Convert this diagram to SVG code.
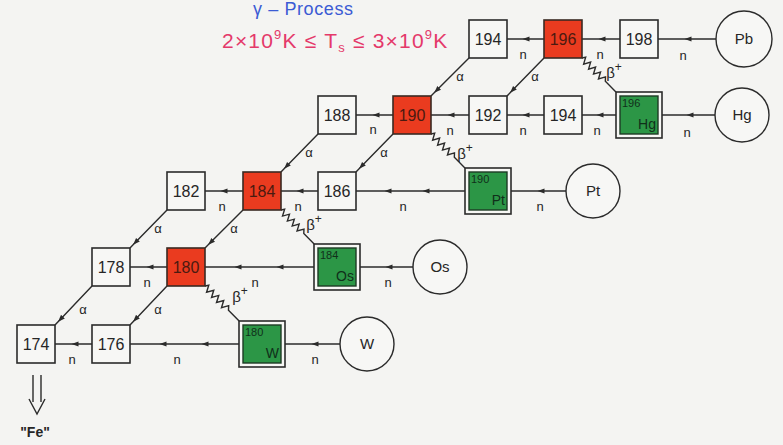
<svg xmlns="http://www.w3.org/2000/svg" xmlns:xlink="http://www.w3.org/1999/xlink" width="783" height="445" viewBox="0 0 783 445">
<style>
.bg{fill:#f4f4f2}
.box{fill:#f7f7f5;stroke:#2b2b2b;stroke-width:1.6}
.red{fill:#ea3b1f;stroke:#3a2a22;stroke-width:1.6}
.gout{fill:#f7f7f5;stroke:#2b2b2b;stroke-width:1.6}
.gin{fill:#2c9646;stroke:#1d3a24;stroke-width:1.4}
.circ{fill:#f7f7f5;stroke:#2b2b2b;stroke-width:1.4}
.num{font-family:"Liberation Sans",Arial,sans-serif;font-size:16px;fill:#262626;text-anchor:middle}
.rnum{font-family:"Liberation Sans",Arial,sans-serif;font-size:16px;fill:#4a1a10;text-anchor:middle}
.gm{font-family:"Liberation Sans",Arial,sans-serif;font-size:11px;fill:#10301a}
.gs{font-family:"Liberation Sans",Arial,sans-serif;font-size:14px;fill:#10301a;text-anchor:end}
.el{font-family:"Liberation Sans",Arial,sans-serif;font-size:15px;fill:#262626;text-anchor:middle}
.lab{font-family:"Liberation Sans",Arial,sans-serif;font-size:13px;fill:#262626;text-anchor:middle}
.beta{font-family:"Liberation Sans",Arial,sans-serif;font-size:15px;fill:#262626;text-anchor:middle}
.ln{fill:none;stroke:#2b2b2b;stroke-width:1.4;marker-mid:url(#ah)}
.wv{fill:none;stroke:#2b2b2b;stroke-width:1.4}
</style>
<defs>
<marker id="ah" markerUnits="userSpaceOnUse" markerWidth="10" markerHeight="8" refX="3.5" refY="3" orient="auto" viewBox="0 0 10 6">
<path d="M0,0.4 L7,3 L0,5.6 z" fill="#2b2b2b"/>
</marker>
<path id="wave" d="M0,0 L2,-3.2 L5.5,3.2 L9,-3.2 L12.5,3.2 L16,-3.2 L19.5,3.2 L23,-3.2 L26.5,3.2 L30,-3.2 L33,0 L48,0"/>
</defs>
<rect class="bg" x="0" y="0" width="783" height="445"/>

<g id="title">
<text x="253" y="15" font-family="Liberation Sans,Arial,sans-serif" font-size="18" letter-spacing="0.6" fill="#3b5bd4">γ – Process</text>
<text x="222" y="48" font-family="Liberation Sans,Arial,sans-serif" font-size="21" letter-spacing="1.2" fill="#e4396a">2×10<tspan font-size="13" dy="-9">9</tspan><tspan dy="9">K ≤ T</tspan><tspan font-size="13" dy="4">s</tspan><tspan dy="-4"> ≤ 3×10</tspan><tspan font-size="13" dy="-9">9</tspan><tspan dy="9">K</tspan></text>
</g>

<g id="connectors">
<path class="ln" d="M544,39 L526,39 L507,39"/>
<path class="ln" d="M620,39 L602,39 L582,39"/>
<path class="ln" d="M716,39 L688,39 L658,39"/>
<path class="ln" d="M393,115 L376,115 L356,115"/>
<path class="ln" d="M469,115 L451,115 L431,115"/>
<path class="ln" d="M544,115 L526,115 L507,115"/>
<path class="ln" d="M616,115 L600,115 L582,115"/>
<path class="ln" d="M715,115 L690,115 L662,115"/>
<path class="ln" d="M243,191 L224,191 L205,191"/>
<path class="ln" d="M318,191 L300,191 L281,191"/>
<path class="ln" d="M465,191 L426,191 L388,191 L356,191"/>
<path class="ln" d="M566,191 L541,191 L511,191"/>
<path class="ln" d="M167,267 L150,267 L130,267"/>
<path class="ln" d="M314,267 L280,267 L238,267 L205,267"/>
<path class="ln" d="M413,267 L389,267 L360,267"/>
<path class="ln" d="M92,344 L75,344 L55,344"/>
<path class="ln" d="M239,344 L205,344 L163,344 L130,344"/>
<path class="ln" d="M340,344 L315,344 L285,344"/>
<path class="ln" d="M469,58 L436.7,90.3 L431,96"/>
<path class="ln" d="M544,58 L512.5,90.3 L507,96"/>
<path class="ln" d="M318,134 L286.5,166.3 L281,172"/>
<path class="ln" d="M393,134 L361.5,166.3 L356,172"/>
<path class="ln" d="M167,210 L135.5,242.3 L130,248"/>
<path class="ln" d="M243,210 L210.7,242.3 L205,248"/>
<path class="ln" d="M92,286 L60.5,319.2 L55,325"/>
<path class="ln" d="M167,286 L135.5,319.2 L130,325"/>
<use href="#wave" class="wv" transform="translate(582,58) rotate(45)"/>
<use href="#wave" class="wv" transform="translate(431,134) rotate(45)"/>
<use href="#wave" class="wv" transform="translate(281,210) rotate(45.8) scale(0.99)"/>
<use href="#wave" class="wv" transform="translate(205,286) rotate(45.8) scale(1.02)"/>
<text class="lab" x="523" y="59">n</text>
<text class="lab" x="600" y="59">n</text>
<text class="lab" x="683" y="60">n</text>
<text class="lab" x="373" y="134">n</text>
<text class="lab" x="450" y="135">n</text>
<text class="lab" x="523" y="135">n</text>
<text class="lab" x="597" y="135">n</text>
<text class="lab" x="687" y="137">n</text>
<text class="lab" x="222" y="211">n</text>
<text class="lab" x="298" y="211">n</text>
<text class="lab" x="403" y="211">n</text>
<text class="lab" x="540" y="211">n</text>
<text class="lab" x="147" y="287">n</text>
<text class="lab" x="255" y="287">n</text>
<text class="lab" x="388" y="287">n</text>
<text class="lab" x="72" y="364">n</text>
<text class="lab" x="177" y="364">n</text>
<text class="lab" x="315" y="364">n</text>
<text class="lab" x="460" y="81">α</text>
<text class="lab" x="535" y="81">α</text>
<text class="lab" x="309" y="157">α</text>
<text class="lab" x="384" y="157">α</text>
<text class="lab" x="158" y="233">α</text>
<text class="lab" x="234" y="233">α</text>
<text class="lab" x="83" y="314">α</text>
<text class="lab" x="158" y="314">α</text>
<text class="beta" x="614" y="78">β<tspan font-size="12" dy="-7">+</tspan></text>
<text class="beta" x="465" y="159">β<tspan font-size="12" dy="-7">+</tspan></text>
<text class="beta" x="314" y="230">β<tspan font-size="12" dy="-7">+</tspan></text>
<text class="beta" x="240" y="302">β<tspan font-size="12" dy="-7">+</tspan></text>
<path d="M33,375 L33,402 M41,375 L41,402 M29,399 L37,414 L45,399" fill="none" stroke="#2b2b2b" stroke-width="1.4"/>
</g>

<g id="n194a"><rect class="box" x="469" y="20" width="38" height="38"/><text class="num" x="488" y="45">194</text></g>
<g id="n196"><rect class="red" x="544" y="20" width="38" height="38"/><text class="rnum" x="563" y="45">196</text></g>
<g id="n198"><rect class="box" x="620" y="20" width="38" height="38"/><text class="num" x="639" y="45">198</text></g>
<g id="Pb"><circle class="circ" cx="744" cy="39" r="28"/><text class="el" x="744" y="44">Pb</text></g>

<g id="n188"><rect class="box" x="318" y="96" width="38" height="38"/><text class="num" x="337" y="121">188</text></g>
<g id="n190"><rect class="red" x="393" y="96" width="38" height="38"/><text class="rnum" x="412" y="121">190</text></g>
<g id="n192"><rect class="box" x="469" y="96" width="38" height="38"/><text class="num" x="488" y="121">192</text></g>
<g id="n194b"><rect class="box" x="544" y="96" width="38" height="38"/><text class="num" x="563" y="121">194</text></g>
<g id="Hg196"><rect class="gout" x="616" y="92" width="46" height="46"/><rect class="gin" x="620" y="96" width="38" height="38"/><text class="gm" x="622" y="107">196</text><text class="gs" x="656" y="129">Hg</text></g>
<g id="Hg"><circle class="circ" cx="742" cy="115" r="27"/><text class="el" x="742" y="120">Hg</text></g>

<g id="n182"><rect class="box" x="167" y="172" width="38" height="38"/><text class="num" x="186" y="197">182</text></g>
<g id="n184"><rect class="red" x="243" y="172" width="38" height="38"/><text class="rnum" x="262" y="197">184</text></g>
<g id="n186"><rect class="box" x="318" y="172" width="38" height="38"/><text class="num" x="337" y="197">186</text></g>
<g id="Pt190"><rect class="gout" x="465" y="168" width="46" height="46"/><rect class="gin" x="469" y="172" width="38" height="38"/><text class="gm" x="471" y="183">190</text><text class="gs" x="505" y="205">Pt</text></g>
<g id="Pt"><circle class="circ" cx="593" cy="191" r="27"/><text class="el" x="593" y="196">Pt</text></g>

<g id="n178"><rect class="box" x="92" y="248" width="38" height="38"/><text class="num" x="111" y="273">178</text></g>
<g id="n180"><rect class="red" x="167" y="248" width="38" height="38"/><text class="rnum" x="186" y="273">180</text></g>
<g id="Os184"><rect class="gout" x="314" y="244" width="46" height="46"/><rect class="gin" x="318" y="248" width="38" height="38"/><text class="gm" x="320" y="259">184</text><text class="gs" x="354" y="281">Os</text></g>
<g id="Os"><circle class="circ" cx="440" cy="267" r="27"/><text class="el" x="440" y="272">Os</text></g>

<g id="n174"><rect class="box" x="17" y="325" width="38" height="38"/><text class="num" x="36" y="350">174</text></g>
<g id="n176"><rect class="box" x="92" y="325" width="38" height="38"/><text class="num" x="111" y="350">176</text></g>
<g id="W180"><rect class="gout" x="239" y="321" width="46" height="46"/><rect class="gin" x="243" y="325" width="38" height="38"/><text class="gm" x="245" y="336">180</text><text class="gs" x="279" y="358">W</text></g>
<g id="W"><circle class="circ" cx="367" cy="344" r="27"/><text class="el" x="367" y="349">W</text></g>

<g id="Fe"><text x="35" y="437" font-family="Liberation Sans,Arial,sans-serif" font-size="14" font-weight="bold" fill="#262626" text-anchor="middle">"Fe"</text></g>
</svg>
